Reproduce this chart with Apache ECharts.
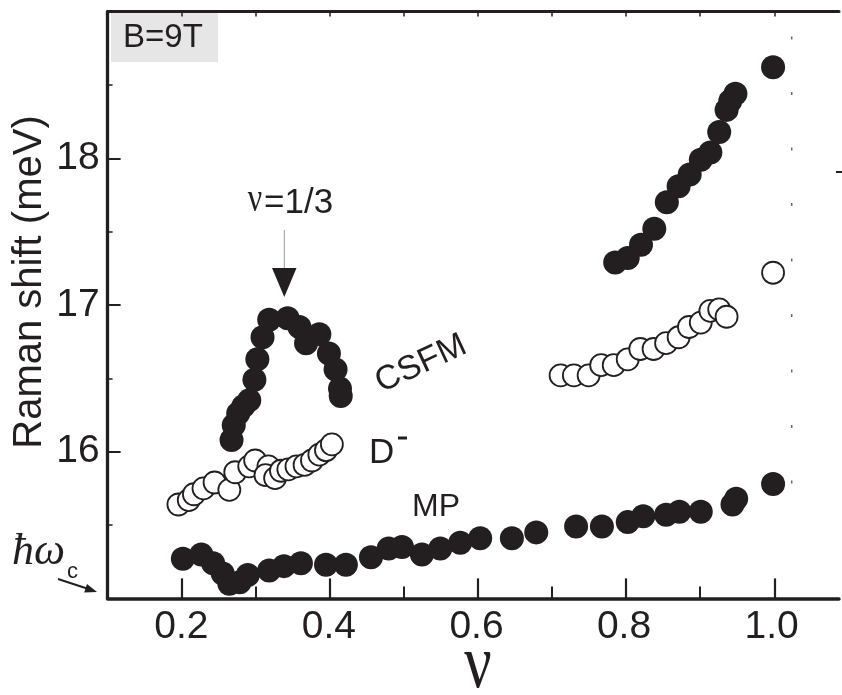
<!DOCTYPE html>
<html>
<head>
<meta charset="utf-8">
<script src="https://cdn.jsdelivr.net/npm/echarts@6/dist/echarts.min.js"></script>
<style>
  * { margin: 0; padding: 0; }
  body { background: #fff; }
  #chart { width: 842px; height: 695px; }
</style>
</head>
<body>
<div id="chart"></div>
<script>
// filling factor nu and Raman shift (meV)
var mpNu = [0.202, 0.227, 0.243, 0.256, 0.265, 0.279, 0.290, 0.319, 0.339, 0.362, 0.396, 0.423, 0.457, 0.481, 0.499, 0.526, 0.551, 0.578, 0.605, 0.648, 0.681, 0.735, 0.770, 0.805, 0.826, 0.857, 0.875, 0.904, 0.947, 0.952, 1.002];
var mpE = [15.27, 15.30, 15.24, 15.17, 15.10, 15.11, 15.16, 15.19, 15.22, 15.24, 15.23, 15.23, 15.28, 15.34, 15.35, 15.30, 15.34, 15.38, 15.41, 15.41, 15.45, 15.49, 15.49, 15.52, 15.56, 15.57, 15.59, 15.59, 15.64, 15.68, 15.78];

var csfmNu = [0.268, 0.271, 0.277, 0.284, 0.292, 0.299, 0.303, 0.310, 0.319, 0.344, 0.360, 0.369, 0.387, 0.400, 0.409, 0.415, 0.416];
var csfmE = [16.08, 16.18, 16.26, 16.31, 16.35, 16.49, 16.63, 16.78, 16.90, 16.91, 16.85, 16.74, 16.80, 16.67, 16.56, 16.43, 16.38];

var highNu = [0.788, 0.805, 0.823, 0.841, 0.858, 0.874, 0.889, 0.904, 0.917, 0.929, 0.939, 0.944, 0.951, 1.002];
var highE = [17.29, 17.32, 17.41, 17.52, 17.70, 17.81, 17.89, 17.99, 18.04, 18.18, 18.33, 18.39, 18.44, 18.62];

var dLeftNu = [0.196, 0.210, 0.217, 0.230, 0.245, 0.265, 0.273, 0.292, 0.300, 0.318, 0.314, 0.327, 0.335, 0.345, 0.356, 0.367, 0.377, 0.387, 0.396, 0.404];
var dLeftE = [15.64, 15.67, 15.71, 15.75, 15.79, 15.74, 15.86, 15.90, 15.94, 15.90, 15.84, 15.82, 15.87, 15.88, 15.90, 15.91, 15.94, 15.98, 16.01, 16.05];

var dRightNu = [0.714, 0.732, 0.752, 0.769, 0.786, 0.805, 0.822, 0.840, 0.857, 0.874, 0.888, 0.904, 0.917, 0.929, 0.939, 1.002];
var dRightE = [16.52, 16.52, 16.52, 16.59, 16.59, 16.63, 16.70, 16.70, 16.74, 16.78, 16.85, 16.88, 16.96, 16.97, 16.92, 17.22];

var xTickLabels = ['0.2', '0.4', '0.6', '0.8', '1.0'];
var yTickLabels = ['16', '17', '18'];

var ink = '#231f20';
var sans = 'Liberation Sans, Arial, sans-serif';
var serif = 'Liberation Serif, Times New Roman, serif';

// x scale of the frame: px per unit of nu, left edge of the plot
var W = 842, pxPerNu = 740.8, x0 = 107.6, nu0 = 0.1;
var nuMax = nu0 + (W - x0) / pxPerNu;
function px(v) { return x0 + (v - nu0) * pxPerNu; }
var gridTop = 11.6, gridBottom = 96.6;

function pairs(xs, ys) {
  return xs.map(function (x, i) { return [x, ys[i]]; });
}
function filled(name, xs, ys) {
  return {
    name: name, type: 'scatter', xAxisIndex: 0, yAxisIndex: 0,
    symbol: 'circle', symbolSize: 24,
    itemStyle: { color: ink, opacity: 1 },
    data: pairs(xs, ys)
  };
}
function hollow(name, xs, ys) {
  return {
    name: name, type: 'scatter', xAxisIndex: 0, yAxisIndex: 0,
    symbol: 'circle', symbolSize: 22,
    itemStyle: { color: '#fff', borderColor: ink, borderWidth: 1.8, opacity: 1 },
    data: pairs(xs, ys)
  };
}
// helper grid/axis used only to draw a set of ticks between two nu values
function tickGrid(a, b) {
  return { left: px(a), right: W - px(b), top: gridTop, bottom: gridBottom };
}
function tickAxis(grid, a, b, step, pos, len, width) {
  return {
    type: 'value', gridIndex: grid, position: pos, min: a, max: b, interval: step,
    axisLine: { show: false }, axisLabel: { show: false }, splitLine: { show: false },
    axisTick: { inside: true, length: len, lineStyle: { color: ink, width: width } }
  };
}

var chart = echarts.init(document.getElementById('chart'));
chart.setOption({
  animation: false,
  backgroundColor: '#fff',
  grid: [
    { left: x0, right: 0, top: gridTop, bottom: gridBottom },
    tickGrid(0.2, 1.0),
    tickGrid(0.3, 0.9),
    tickGrid(0.2, 1.0)
  ],
  xAxis: [
    {
      type: 'value', gridIndex: 0, position: 'bottom', min: nu0, max: nuMax, interval: 0.1,
      axisLine: { lineStyle: { color: ink, width: 3.5 } },
      axisTick: { show: false },
      splitLine: { show: false },
      axisLabel: {
        margin: 9, color: ink, fontFamily: sans, fontSize: 39,
        formatter: function (v) {
          var s = (Math.round(v * 10) / 10).toFixed(1);
          return xTickLabels.indexOf(s) >= 0 && Math.abs(v - parseFloat(s)) < 1e-6 ? s : '';
        }
      }
    },
    {
      type: 'value', gridIndex: 0, position: 'top', min: nu0, max: nuMax,
      axisLine: { onZero: false, lineStyle: { color: ink, width: 3 } },
      axisTick: { show: false }, axisLabel: { show: false }, splitLine: { show: false }
    },
    tickAxis(1, 0.2, 1.0, 0.2, 'bottom', 20, 2.2),
    tickAxis(2, 0.3, 0.9, 0.2, 'bottom', 12, 2),
    tickAxis(3, 0.2, 1.0, 0.1, 'top', 5, 1.5)
  ],
  yAxis: [
    {
      type: 'value', gridIndex: 0, min: 15, max: 19, interval: 1,
      axisLine: { lineStyle: { color: ink, width: 3.3 } },
      axisTick: { inside: true, length: 13, lineStyle: { color: ink, width: 2 } },
      minorTick: { show: true, splitNumber: 2, length: 5, lineStyle: { color: ink, width: 1.5 } },
      splitLine: { show: false },
      axisLabel: {
        margin: 8, color: ink, fontFamily: sans, fontSize: 39,
        formatter: function (v) {
          var s = String(Math.round(v));
          return yTickLabels.indexOf(s) >= 0 ? s : '';
        }
      }
    },
    { type: 'value', gridIndex: 1, min: 15, max: 19, show: false },
    { type: 'value', gridIndex: 2, min: 15, max: 19, show: false },
    { type: 'value', gridIndex: 3, min: 15, max: 19, show: false }
  ],
  series: [
    filled('MP', mpNu, mpE),
    filled('CSFM', csfmNu, csfmE),
    filled('CSFM high', highNu, highE),
    hollow('D- left', dLeftNu, dLeftE),
    hollow('D- right', dRightNu, dRightE)
  ],
  graphic: [
    { type: 'rect', z: -1, shape: { x: 111, y: 12.5, width: 107, height: 49.5 }, style: { fill: '#e6e6e6' } },
    { type: 'text', x: 123, y: 38, style: { text: 'B=9T', fontFamily: sans, fontSize: 33, fill: ink, align: 'left', verticalAlign: 'middle' } },

    { type: 'text', x: 30, y: 282, rotation: Math.PI / 2, style: { text: 'Raman shift (meV)', fontFamily: sans, fontSize: 40, fill: ink, align: 'center', verticalAlign: 'middle' } },
    { type: 'text', x: 478, y: 667, scaleX: 0.8, style: { text: 'ν', fontFamily: serif, fontSize: 76, fill: ink, align: 'center', verticalAlign: 'middle' } },

    { type: 'text', x: 255, y: 200, scaleX: 0.8, style: { text: 'ν', fontFamily: serif, fontSize: 40, fill: ink, align: 'center', verticalAlign: 'middle' } },
    { type: 'text', x: 264, y: 203, style: { text: '=1/3', fontFamily: sans, fontSize: 35, fill: ink, align: 'left', verticalAlign: 'middle' } },
    { type: 'line', shape: { x1: 284.3, y1: 230, x2: 284.3, y2: 269 }, style: { stroke: '#999', lineWidth: 1 } },
    { type: 'polygon', shape: { points: [[272, 268], [296.5, 268], [284.3, 297]] }, style: { fill: ink } },

    { type: 'text', x: 421, y: 364, rotation: 25 * Math.PI / 180, style: { text: 'CSFM', fontFamily: sans, fontSize: 34, fill: ink, align: 'center', verticalAlign: 'middle' } },
    { type: 'text', x: 369, y: 453, style: { text: 'D', fontFamily: sans, fontSize: 35, fill: ink, align: 'left', verticalAlign: 'middle' } },
    { type: 'rect', shape: { x: 398, y: 436.5, width: 9, height: 3 }, style: { fill: ink } },
    { type: 'text', x: 412, y: 507, style: { text: 'MP', fontFamily: sans, fontSize: 32, fill: ink, align: 'left', verticalAlign: 'middle' } },

    { type: 'text', x: 12, y: 552, style: { text: 'ħω', fontFamily: serif, fontStyle: 'italic', fontSize: 44, fill: ink, align: 'left', verticalAlign: 'middle' } },
    { type: 'text', x: 67, y: 572, style: { text: 'c', fontFamily: sans, fontSize: 22, fill: ink, align: 'left', verticalAlign: 'middle' } },
    { type: 'line', shape: { x1: 58, y1: 579, x2: 87, y2: 588.5 }, style: { stroke: ink, lineWidth: 2 } },
    { type: 'polygon', shape: { points: [[97, 592], [84.2, 592.5], [87, 583.9]] }, style: { fill: ink } },

    { type: 'line', shape: { x1: 791.7, y1: 36.5, x2: 791.7, y2: 485 }, style: { stroke: '#666', lineWidth: 1.5, lineDash: [3, 52.5] } },
    { type: 'line', shape: { x1: 836, y1: 172, x2: 842, y2: 172 }, style: { stroke: ink, lineWidth: 2 } }
  ]
});
</script>
</body>
</html>
